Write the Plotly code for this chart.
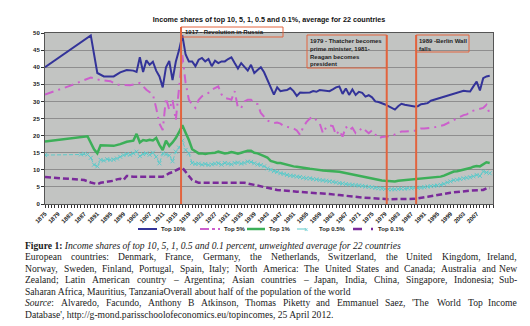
import plotly.graph_objects as go

# ---------------- data ----------------
top10_years = [1875, 1889, 1891, 1893, 1896, 1898, 1900, 1902] + list(range(1903, 2012))
top10_vals = [40.0, 49.3, 38.3, 37.3, 37.3, 38.5, 39.2, 39.0,
              38.6, 42.9, 38.6, 42.0, 40.7, 41.6, 39.0, 37.3, 34.1, 40.0,
              41.8, 36.2, 41.6, 45.0, 49.3, 43.7, 41.7, 41.7, 40.3, 42.2,
              42.7, 41.7, 42.4, 40.3, 41.9, 41.2, 41.7, 41.7, 42.4, 42.9,
              41.2, 39.6, 41.2, 40.2, 39.0, 40.7, 38.3, 39.2, 40.0, 38.5,
              36.3, 34.5, 32.0, 34.1, 33.0, 33.2, 33.3, 33.9, 33.0, 31.6,
              32.6, 32.5, 32.5, 32.6, 33.0, 32.8, 33.3, 33.2, 33.3, 33.0,
              33.5, 34.1, 34.4, 32.2, 33.8, 31.9, 33.5, 31.9, 32.8, 32.5,
              31.4, 31.8, 31.2, 30.0, 29.8, 29.5, 29.1, 28.6, 28.0, 27.6,
              28.6, 29.3, 29.0, 28.8, 28.6, 28.5, 28.6, 29.2, 29.3, 29.5,
              30.2, 30.5, 30.7, 31.0, 31.5, 31.7, 32.0, 32.3, 32.5, 33.0,
              33.1, 33.0, 32.9, 34.4, 35.8, 33.2, 36.8, 37.3, 37.5]

top5_years = [1875, 1883, 1889, 1892, 1895, 1897, 1901, 1904, 1906, 1908] + list(range(1909, 2012))
top5_vals = [32.0, 34.7, 37.0, 36.2, 35.9, 34.9, 34.7, 35.4, 33.4, 32.0,
             28.1, 23.5, 21.6, 31.0, 27.5, 30.5, 24.5, 34.0, 43.5, 35.4,
             30.5, 29.0, 28.1, 30.5, 31.5, 32.0, 32.5, 33.4, 33.8, 34.4,
             32.0, 31.0, 30.8, 30.5, 33.0, 28.1, 28.1, 30.0, 30.5, 30.5,
             29.5, 29.2, 26.6, 25.5, 24.4, 24.0, 23.7, 23.8, 23.5, 22.8,
             22.6, 22.3, 22.1, 21.5, 20.2, 22.6, 24.0, 25.0, 25.5, 24.5,
             23.6, 20.7, 22.5, 23.0, 22.8, 20.2, 21.5, 19.7, 22.6, 21.5,
             22.3, 20.7, 21.3, 22.3, 21.5, 20.7, 21.5, 20.5, 19.2, 19.6,
             19.6, 19.8, 19.9, 20.4, 20.8, 21.2, 21.2, 21.2, 21.3, 21.4,
             21.6, 22.1, 22.1, 22.1, 22.3, 22.4, 22.6, 22.9, 23.1, 23.6,
             24.1, 24.6, 25.1, 25.5, 26.0, 26.2, 27.0, 27.3, 27.6, 27.8,
             28.1, 29.0, 26.3]

top1_years = [1875, 1887, 1888, 1890, 1891, 1892, 1896, 1898, 1900, 1902] + list(range(1903, 2012))
top1_vals = [18.3, 19.5, 19.8, 16.0, 14.8, 17.2, 17.0, 17.5, 18.2, 18.5,
             20.5, 18.0, 18.7, 18.5, 18.8, 18.6, 19.3, 17.3, 15.8, 18.5,
             17.0, 18.0, 19.3, 21.0, 23.0, 20.8, 18.7, 16.0, 15.3, 14.8,
             14.8, 14.6, 14.8, 14.8, 15.0, 15.3, 15.0, 14.8, 14.9, 15.2,
             15.0, 14.7, 15.0, 15.3, 15.6, 15.6, 15.0, 14.8, 14.3, 14.0,
             13.6, 12.6, 12.3, 12.0, 12.0, 11.7, 11.5, 11.3, 11.0, 10.9,
             10.7, 10.5, 10.4, 10.3, 10.2, 10.0, 9.9, 9.8, 9.7, 9.7,
             9.6, 9.5, 9.4, 9.2, 9.0, 8.8, 8.6, 8.4, 8.3, 8.0,
             7.8, 7.6, 7.4, 7.2, 7.0, 6.9, 6.8, 6.7, 6.5, 6.6,
             6.8, 6.9, 7.0, 7.1, 7.2, 7.3, 7.3, 7.4, 7.4, 7.5,
             7.6, 7.7, 7.8, 8.0, 8.3, 8.7, 9.1, 9.5, 9.6, 9.8,
             9.9, 10.1, 10.5, 10.9, 11.1, 11.0, 11.7, 12.2, 12.0]

top05_years = [1875] + list(range(1886, 2012))
top05_vals = [14.3,
              14.5, 14.7, 14.5, 13.5, 11.5, 11.0, 12.9, 12.7, 13.1, 12.9,
              13.0, 13.3, 13.8, 14.3, 14.6, 14.4, 14.8, 15.3, 14.0, 14.6,
              14.8, 14.4, 15.0, 13.8, 11.9, 14.8, 14.5, 14.2, 12.5, 15.3,
              16.5, 18.5, 15.8, 14.8, 12.0, 11.7, 11.8, 11.5, 11.7, 11.4,
              11.6, 11.8, 11.9, 11.5, 12.0, 11.8, 11.6, 12.0, 12.1, 11.8,
              12.0, 12.4, 12.3, 11.9, 11.6, 11.4, 11.0, 10.4, 10.0, 9.6,
              9.4, 9.0, 8.8, 8.5, 8.3, 8.2, 8.0, 7.9, 7.7, 7.5,
              7.5, 7.3, 7.2, 7.0, 6.9, 6.8, 6.6, 6.5, 6.3, 6.1,
              6.0, 5.8, 5.7, 5.6, 5.5, 5.4, 5.3, 5.1, 5.0, 4.9,
              4.7, 4.6, 4.5, 4.4, 4.3, 4.3, 4.3, 4.4, 4.5, 4.5,
              4.6, 4.6, 4.7, 4.7, 4.8, 4.9, 5.1, 5.2, 5.3, 5.4,
              5.6, 5.9, 6.3, 6.6, 7.0, 7.1, 7.3, 7.5, 7.7, 7.8,
              8.1, 8.5, 8.2, 9.5, 9.2, 9.0]

top01_years = [1875, 1882, 1887, 1889, 1891, 1892, 1894, 1896, 1897, 1898, 1899,
               1900, 1902, 1904, 1908, 1911, 1912, 1913, 1914, 1915, 1916, 1917,
               1918, 1919, 1920, 1922, 1928, 1936, 1939, 1942, 1946, 1952,
               1957, 1962, 1965, 1972, 1980, 1988, 1992, 1999, 2005, 2009,
               2010, 2011]
top01_vals = [7.9, 7.5, 7.0, 6.3, 5.8, 6.2, 6.5, 6.8, 7.2, 7.4, 7.0,
              8.2, 8.0, 8.0, 7.8, 8.0, 8.4, 9.0, 9.3, 9.9, 10.3, 10.6,
              9.4, 8.5, 7.0, 6.2, 6.2, 6.2, 5.6, 4.9, 4.1, 3.6,
              3.3, 2.9, 2.6, 1.9, 1.4, 1.5, 2.1, 3.3, 3.9, 4.1,
              4.6, 4.7]

series_names = ["Top 10%", "Top 5%", "Top 1%", "Top 0.5%", "Top 0.1%"]
tick_labels = ["1875", "1879", "1883", "1887", "1891", "1895", "1899", "1903",
               "1907", "1911", "1915", "1919", "1923", "1927", "1931", "1935",
               "1939", "1943", "1947", "1951", "1955", "1959", "1963", "1967",
               "1971", "1975", "1979", "1983", "1987", "1991", "1995", "1999",
               "2003", "2007"]
event_years = [1916.6, 1979.5, 1988.5]
event_texts = ["1917 - Revolution in Russia",
               "1979 - Thatcher becomes<br>prime minister, 1981-<br>Reagan becomes<br>president",
               "1989 -Berlin Wall<br>falls"]

# ---------------- layout helpers ----------------
W, H = 530, 326
L, R, T, B = 45, 493, 33, 204


def px(xp):
    return (xp - L) / (R - L)


def py(yp):
    return (B - yp) / (B - T)


def yr(xp):
    return 1875 + (xp - L) / (R - L) * 137


C10, C5, C1, C05, C01 = "#333399", "#cc5fcc", "#3caf58", "#5ccaca", "#7a2a9a"
RED = "#e2643e"

fig = go.Figure()
fig.add_trace(go.Scatter(x=top10_years, y=top10_vals, mode="lines", name=series_names[0],
                         line=dict(color=C10, width=2)))
fig.add_trace(go.Scatter(x=top5_years, y=top5_vals, mode="lines", name=series_names[1],
                         line=dict(color=C5, width=2, dash="9px,5px,2px,5px")))
fig.add_trace(go.Scatter(x=top1_years, y=top1_vals, mode="lines", name=series_names[2],
                         line=dict(color=C1, width=2.5)))
fig.add_trace(go.Scatter(x=top05_years, y=top05_vals, mode="lines+markers", name=series_names[3],
                         line=dict(color=C05, width=1, dash="4px,2px"),
                         marker=dict(symbol="x-thin", size=4, line=dict(color=C05, width=1))))
fig.add_trace(go.Scatter(x=top01_years, y=top01_vals, mode="lines", name=series_names[4],
                         line=dict(color=C01, width=2.5, dash="6px,3px")))

shapes = []
annots = []

# event lines and boxes
shapes.append(dict(type="line", xref="x", yref="paper", x0=event_years[0], x1=event_years[0],
                   y0=0, y1=py(27), line=dict(color=RED, width=2), layer="above"))
shapes.append(dict(type="line", xref="x", yref="paper", x0=event_years[1], x1=event_years[1],
                   y0=0, y1=py(35), line=dict(color=RED, width=2), layer="above"))
shapes.append(dict(type="line", xref="x", yref="paper", x0=event_years[2], x1=event_years[2],
                   y0=0, y1=py(35), line=dict(color=RED, width=2), layer="above"))
shapes.append(dict(type="rect", xref="x", yref="paper", x0=event_years[0], x1=yr(283),
                   y0=py(37), y1=py(27), line=dict(color=RED, width=1), layer="above"))
shapes.append(dict(type="rect", xref="x", yref="paper", x0=yr(307), x1=event_years[1],
                   y0=py(68), y1=py(35), line=dict(color=RED, width=1), layer="above"))
shapes.append(dict(type="rect", xref="x", yref="paper", x0=event_years[2], x1=yr(469),
                   y0=py(52), y1=py(35), line=dict(color=RED, width=1), layer="above"))

box_font = dict(family="Liberation Sans", size=6, color="#222222", weight="bold")
annots.append(dict(x=yr(184), y=py(28), xref="x", yref="paper", text=event_texts[0],
                   showarrow=False, xanchor="left", yanchor="top", align="left",
                   font=box_font, borderpad=0))
annots.append(dict(x=yr(309), y=py(36.5), xref="x", yref="paper", text=event_texts[1],
                   showarrow=False, xanchor="left", yanchor="top", align="left",
                   font=box_font, borderpad=0))
annots.append(dict(x=yr(418), y=py(36.5), xref="x", yref="paper", text=event_texts[2],
                   showarrow=False, xanchor="left", yanchor="top", align="left",
                   font=box_font, borderpad=0))

# manual legend
leg_y = py(229)
leg_items = [
    (138, 157, 160, dict(color=C10, width=2)),
    (200, 220, 223, dict(color=C5, width=2, dash="dashdot")),
    (247, 265, 268, dict(color=C1, width=2.5)),
    (297, 315, 318, dict(color=C05, width=1, dash="dash")),
    (353, 373, 377, dict(color=C01, width=2.5, dash="dash")),
]
leg_font = dict(family="Liberation Sans", size=6, color="#222222", weight="bold")
for (a, b, t, ln), name in zip(leg_items, series_names):
    shapes.append(dict(type="line", xref="paper", yref="paper", x0=px(a), x1=px(b),
                       y0=leg_y, y1=leg_y, line=ln))
    annots.append(dict(x=px(t), y=leg_y, xref="paper", yref="paper", text=name,
                       showarrow=False, xanchor="left", yanchor="middle",
                       font=leg_font, borderpad=0))
annots.append(dict(x=px(306), y=leg_y, xref="paper", yref="paper", text="×",
                   showarrow=False, xanchor="center", yanchor="middle",
                   font=dict(family="Liberation Sans", size=7, color=C05), borderpad=0))

# caption (Times metrics for justification)
TW = {' ': 250, ',': 250, '.': 250, ':': 278, ';': 278, '-': 333, "'": 333, '/': 278,
      '–': 500, '(': 333, ')': 333,
      'A': 722, 'B': 667, 'C': 667, 'D': 722, 'E': 611, 'F': 556, 'G': 722, 'H': 722,
      'I': 333, 'J': 389, 'K': 722, 'L': 611, 'M': 889, 'N': 722, 'O': 722, 'P': 556,
      'Q': 722, 'R': 667, 'S': 556, 'T': 611, 'U': 722, 'V': 722, 'W': 944, 'X': 722,
      'Y': 722, 'Z': 611,
      'a': 444, 'b': 500, 'c': 444, 'd': 500, 'e': 444, 'f': 333, 'g': 500, 'h': 500,
      'i': 278, 'j': 278, 'k': 500, 'l': 278, 'm': 778, 'n': 500, 'o': 500, 'p': 500,
      'q': 500, 'r': 333, 's': 389, 't': 278, 'u': 500, 'v': 500, 'w': 722, 'x': 500,
      'y': 500, 'z': 444}
CAP_SIZE = 9.6
cap_font = dict(family="Liberation Serif", size=CAP_SIZE, color="#1a1a1a")
X0, X1 = 24, 518


def tw(s):
    return sum(TW.get(c, 500) for c in s) / 1000 * CAP_SIZE


def plain_line(html, ypx):
    annots.append(dict(x=px(X0), y=py(ypx), xref="paper", yref="paper", text=html,
                       showarrow=False, xanchor="left", yanchor="middle",
                       font=cap_font, borderpad=0))


def justified_line(text, ypx, italic_first=False):
    words = text.split(" ")
    widths = [tw(w) for w in words]
    gap = (X1 - X0 - sum(widths)) / (len(words) - 1)
    x = X0
    for i, (w, wd) in enumerate(zip(words, widths)):
        html = w
        if i == 0 and italic_first:
            html = "<i>" + w[:-1] + "</i>" + w[-1]
        last = i == len(words) - 1
        annots.append(dict(x=px(X1 if last else x), y=py(ypx), xref="paper", yref="paper",
                           text=html, showarrow=False,
                           xanchor="right" if last else "left", yanchor="middle",
                           font=cap_font, borderpad=0))
        x += wd + gap


plain_line("<b>Figure 1:</b> <i>Income shares of top 10, 5, 1, 0.5 and 0.1 percent, "
           "unweighted average for 22 countries</i>", 245)
justified_line("European countries: Denmark, France, Germany, the Netherlands, Switzerland, "
               "the United Kingdom, Ireland,", 256.5)
justified_line("Norway, Sweden, Finland, Portugal, Spain, Italy; North America: The United "
               "States and Canada; Australia and New", 268)
justified_line("Zealand; Latin American country – Argentina; Asian countries – Japan, India, "
               "China, Singapore, Indonesia; Sub-", 279.5)
plain_line("Saharan Africa, Mauritius, TanzaniaOverall about half of the population of the world", 291)
justified_line("Source: Alvaredo, Facundo, Anthony B Atkinson, Thomas Piketty and Emmanuel "
               "Saez, 'The World Top Income", 302.5, italic_first=True)
plain_line("Database', http://g-mond.parisschoolofeconomics.eu/topincomes, 25 April 2012.", 314)

tick_font = dict(family="Liberation Sans", size=6, color="#1a1a1a", weight="bold")
fig.update_layout(
    width=W, height=H,
    margin=dict(l=L, r=W - R, t=T, b=H - B, pad=0),
    paper_bgcolor="white",
    plot_bgcolor="#c2c4c2",
    showlegend=False,
    title=dict(text="Income shares of top 10, 5, 1, 0.5 and 0.1%, average for 22 countries",
               x=269 / W, xanchor="center", y=1 - 19 / H, yanchor="middle",
               font=dict(family="Liberation Sans", size=7.2, color="#111111", weight="bold")),
    xaxis=dict(range=[1875, 2012], tickmode="array",
               tickvals=[int(t) for t in tick_labels], ticktext=tick_labels,
               tickangle=-45, tickfont=tick_font, ticks="outside", ticklen=3,
               tickcolor="#333333", showgrid=False, zeroline=False,
               showline=True, linecolor="#555555", linewidth=1, mirror=True,
               minor=dict(tickmode="linear", tick0=1875, dtick=1, ticks="outside",
                          ticklen=3, tickcolor="#333333", showgrid=False),
               automargin=False),
    yaxis=dict(range=[0, 50], tickmode="linear", tick0=0, dtick=5, tickfont=tick_font,
               ticks="outside", ticklen=3, tickcolor="#333333",
               showgrid=True, gridcolor="#8e8e8e", gridwidth=1, zeroline=False,
               showline=True, linecolor="#555555", linewidth=1, mirror=True,
               automargin=False),
    shapes=shapes,
    annotations=annots,
)

fig.write_html("out.html")
